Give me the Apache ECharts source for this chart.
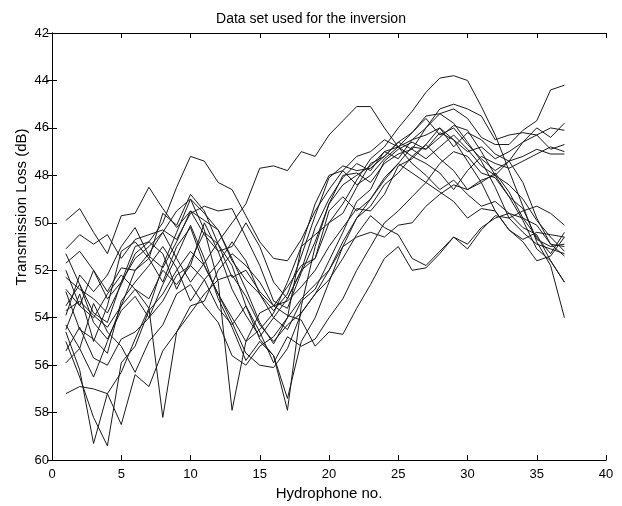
<!DOCTYPE html>
<html>
<head>
<meta charset="utf-8">
<title>Data set used for the inversion</title>
<script src="https://cdn.jsdelivr.net/npm/echarts@6/dist/echarts.min.js"></script>
<style>
    html, body { margin: 0; padding: 0; background: #fff; }
    #chart_main { width: 622px; height: 506px; }
</style>
</head>
<body>
<div id="chart_main"></div>
<script>
// 水听器编号
var hydrophone = [1, 2, 3, 4, 5, 6, 7, 8, 9, 10, 11, 12, 13, 14, 15, 16, 17, 18, 19, 20,
                  21, 22, 23, 24, 25, 26, 27, 28, 29, 30, 31, 32, 33, 34, 35, 36, 37];

// 传播损失 (dB)，每条曲线一组
var tl_1  = [49.9, 49.4, 50.4, 51.3, 49.7, 49.6, 48.5, 49.4, 50.2, 49.5, 50.5, 51.2, 51.0, 50.0, 51.0, 52.5, 53.2, 52.0, 51.5, 49.5, 48.9, 49.5, 49.0, 48.2, 47.5, 46.8, 46.9, 46.2, 46.5, 47.0, 46.8, 47.3, 47.0, 46.6, 46.3, 46.0, 46.1];
var tl_2  = [53.5, 52.6, 53.8, 54.2, 52.5, 51.0, 50.8, 50.0, 48.5, 47.2, 47.4, 48.3, 48.6, 49.7, 50.8, 51.5, 51.6, 50.7, 49.5, 48.6, 47.8, 47.2, 47.0, 46.5, 46.8, 46.2, 45.5, 45.4, 45.8, 46.6, 47.4, 48.5, 49.8, 50.4, 50.9, 51.1, 51.3];
var tl_3  = [52.8, 53.5, 52.0, 53.2, 52.5, 51.5, 51.0, 50.4, 51.5, 52.5, 51.7, 50.8, 50.0, 49.2, 47.7, 47.6, 47.8, 47.0, 47.2, 46.3, 45.7, 45.1, 45.1, 46.0, 46.8, 47.5, 48.0, 48.6, 48.2, 48.8, 49.3, 49.1, 49.6, 50.2, 50.5, 51.6, 52.5];
var tl_4  = [54.5, 53.0, 55.0, 53.5, 51.2, 50.8, 51.5, 52.5, 51.0, 50.2, 51.8, 53.0, 54.0, 55.0, 54.5, 53.8, 52.5, 51.0, 50.5, 50.0, 49.2, 48.2, 47.3, 46.8, 46.0, 45.3, 44.5, 43.9, 43.8, 44.0, 45.1, 46.3, 47.8, 49.3, 50.8, 51.8, 54.0];
var tl_5  = [54.3, 55.3, 56.5, 55.0, 53.5, 52.8, 53.2, 52.0, 52.6, 51.8, 50.0, 51.2, 52.8, 53.9, 54.8, 54.0, 53.2, 52.0, 50.2, 49.0, 48.1, 47.5, 47.8, 47.0, 47.3, 46.5, 46.0, 45.4, 45.2, 45.6, 46.4, 46.7, 46.7, 46.1, 45.7, 44.4, 44.2];
var tl_6  = [54.6, 56.2, 59.3, 57.2, 56.3, 54.9, 53.6, 51.8, 50.4, 49.0, 49.6, 50.3, 51.5, 52.8, 54.2, 55.1, 54.0, 51.0, 49.2, 48.0, 47.8, 48.4, 48.0, 47.3, 46.8, 47.2, 46.7, 46.0, 46.5, 47.4, 48.3, 49.5, 50.3, 50.7, 50.4, 50.5, 50.6];
var tl_7  = [55.0, 56.5, 58.2, 59.4, 55.9, 55.2, 53.7, 53.0, 52.0, 51.2, 51.8, 53.0, 54.2, 55.5, 56.0, 56.1, 55.3, 53.8, 53.0, 52.0, 50.8, 49.8, 49.3, 48.4, 47.9, 47.2, 47.5, 47.9, 48.6, 47.8, 47.2, 47.5, 47.7, 47.4, 47.1, 46.8, 47.0];
var tl_8  = [57.2, 56.9, 57.0, 57.2, 58.5, 56.4, 56.9, 55.4, 54.6, 53.8, 53.0, 52.4, 52.2, 53.1, 54.3, 55.0, 54.3, 53.8, 53.0, 52.4, 51.5, 50.5, 49.7, 50.2, 50.5, 51.5, 51.8, 51.2, 50.6, 50.9, 50.2, 49.8, 49.6, 49.8, 50.1, 50.9, 51.4];
var tl_9  = [52.0, 53.5, 54.0, 53.0, 52.2, 52.8, 53.6, 58.2, 54.6, 53.5, 53.3, 52.0, 51.3, 51.8, 52.5, 53.5, 53.9, 54.1, 55.2, 54.6, 54.7, 53.6, 52.6, 51.5, 51.0, 52.0, 51.9, 51.3, 50.6, 51.1, 50.3, 49.7, 49.8, 49.5, 49.3, 49.6, 50.1];
var tl_10 = [53.7, 53.3, 53.9, 54.4, 53.5, 52.0, 51.3, 50.4, 49.5, 49.0, 50.3, 52.5, 57.9, 55.0, 53.8, 53.5, 53.3, 52.7, 52.0, 51.0, 50.2, 49.4, 49.5, 48.8, 47.6, 47.3, 46.7, 47.3, 47.8, 48.6, 48.3, 47.9, 48.7, 49.8, 50.6, 51.3, 50.4];
var tl_11 = [52.3, 52.8, 53.2, 53.8, 52.6, 51.3, 50.8, 51.3, 52.8, 51.6, 50.4, 50.9, 51.8, 53.5, 54.9, 55.6, 57.9, 53.5, 51.0, 49.2, 48.4, 48.0, 47.6, 47.0, 46.8, 46.5, 46.3, 46.0, 46.8, 46.2, 46.5, 47.1, 47.4, 48.3, 49.8, 50.9, 51.0];
var tl_12 = [51.3, 52.6, 54.2, 54.9, 53.7, 53.1, 54.0, 52.6, 51.4, 50.1, 51.5, 53.2, 54.4, 55.8, 55.0, 55.6, 57.4, 55.0, 54.0, 52.5, 51.0, 49.8, 49.0, 48.1, 47.5, 47.9, 48.3, 47.5, 47.0, 47.2, 47.9, 48.1, 48.9, 49.4, 50.7, 51.0, 50.9];
var tl_13 = [55.4, 54.4, 55.7, 56.0, 54.9, 54.6, 54.0, 53.3, 52.2, 51.8, 52.4, 53.6, 54.3, 53.5, 54.6, 55.9, 54.8, 55.2, 54.9, 54.0, 53.2, 52.0, 51.0, 50.0, 49.5, 48.9, 48.3, 48.7, 49.1, 49.8, 49.4, 49.5, 50.3, 50.8, 51.6, 51.4, 50.6];
var tl_14 = [51.1, 50.5, 50.9, 50.5, 51.5, 50.7, 50.5, 50.3, 50.7, 49.6, 49.3, 49.5, 49.4, 50.6, 51.8, 53.3, 53.6, 52.1, 50.8, 49.2, 48.0, 47.9, 48.3, 47.5, 47.1, 46.9, 47.3, 46.8, 46.3, 46.9, 47.6, 48.0, 47.4, 46.6, 46.0, 46.4, 45.8];
var tl_15 = [53.9, 52.2, 52.9, 52.2, 51.0, 50.2, 51.4, 51.9, 50.8, 49.5, 49.9, 50.3, 51.6, 52.4, 53.0, 53.7, 53.0, 51.4, 49.7, 48.1, 47.6, 47.8, 47.7, 47.2, 46.6, 46.9, 46.0, 45.2, 45.0, 45.2, 45.5, 46.5, 46.3, 46.2, 46.3, 46.9, 46.7];
var tl_16 = [52.9, 54.5, 54.9, 55.5, 53.3, 52.5, 51.8, 51.0, 51.9, 53.3, 52.4, 51.7, 50.8, 51.6, 53.0, 54.0, 54.5, 53.3, 52.8, 51.6, 50.4, 49.1, 48.6, 47.4, 46.9, 46.6, 46.9, 46.4, 45.9, 46.1, 47.0, 48.0, 48.9, 49.9, 51.1, 51.6, 52.5];
var tl_17 = [55.9, 55.3, 53.4, 54.6, 55.2, 56.3, 55.0, 54.3, 53.0, 52.6, 53.5, 54.2, 55.6, 56.0, 55.2, 54.8, 54.0, 53.2, 52.6, 52.0, 51.0, 50.6, 50.4, 50.6, 50.1, 50.0, 49.3, 48.8, 48.4, 48.6, 48.2, 48.0, 48.4, 49.0, 49.9, 50.6, 51.2];
var tl_18 = [51.7, 51.2, 52.0, 52.9, 51.9, 52.0, 51.5, 49.6, 50.1, 48.8, 49.5, 50.9, 52.3, 52.0, 52.9, 53.5, 52.7, 51.8, 51.5, 50.0, 49.6, 48.5, 47.5, 47.2, 46.6, 46.2, 45.6, 46.3, 46.0, 46.7, 47.3, 47.8, 47.4, 47.2, 46.9, 47.1, 47.1];

var tl_all = [tl_1, tl_2, tl_3, tl_4, tl_5, tl_6, tl_7, tl_8, tl_9, tl_10,
              tl_11, tl_12, tl_13, tl_14, tl_15, tl_16, tl_17, tl_18];

$main();

function $main() {
    var myChart = echarts.init(document.getElementById('chart_main'));
    var font = 'Liberation Sans, Arial, sans-serif';

    // 每条曲线转成 [x, y] 点
    var series = [];
    for (var i = 0; i < tl_all.length; i++) {
        var pts = [];
        for (var j = 0; j < hydrophone.length; j++) {
            pts.push([hydrophone[j], tl_all[i][j]]);
        }
        series.push({
            type: 'line',
            data: pts,
            showSymbol: false,
            silent: true,
            lineStyle: { color: '#1a1a1a', width: 1 }
        });
    }

    // matlab 风格：四周框线，刻度朝内
    var tickIn = { show: true, inside: true, length: 5, lineStyle: { color: '#000' } };
    var lineK = { show: true, lineStyle: { color: '#000', width: 1 } };

    var option = {
        animation: false,
        backgroundColor: '#fff',
        title: {
            text: 'Data set used for the inversion',
            left: 'center',
            top: 7,
            textStyle: { fontFamily: font, fontSize: 14, fontWeight: 'normal', color: '#000' }
        },
        // y 轴标题在原图里偏上，单独画
        graphic: [{
            type: 'text',
            x: 22,
            y: 207,
            rotation: Math.PI / 2,
            style: {
                text: 'Transmission Loss (dB)',
                font: '15px ' + font,
                fill: '#000',
                align: 'center',
                verticalAlign: 'middle'
            }
        }],
        grid: { left: 52, right: 16, top: 33, bottom: 38 },
        xAxis: [{
            type: 'value',
            min: 0, max: 40, interval: 5,
            position: 'bottom',
            name: 'Hydrophone no.',
            nameLocation: 'middle',
            nameGap: 23,
            nameTextStyle: { fontFamily: font, fontSize: 15, color: '#000' },
            axisLine: lineK,
            axisTick: tickIn,
            axisLabel: { fontFamily: font, fontSize: 13, color: '#000', margin: 8 },
            splitLine: { show: false }
        }, {
            type: 'value',
            min: 0, max: 40, interval: 5,
            position: 'top',
            axisLine: lineK,
            axisTick: tickIn,
            axisLabel: { show: false },
            splitLine: { show: false }
        }],
        yAxis: [{
            type: 'value',
            inverse: true,
            min: 42, max: 60, interval: 2,
            position: 'left',
            axisLine: lineK,
            axisTick: tickIn,
            axisLabel: { fontFamily: font, fontSize: 13, color: '#000', margin: 3 },
            splitLine: { show: false }
        }, {
            type: 'value',
            inverse: true,
            min: 42, max: 60, interval: 2,
            position: 'right',
            axisLine: lineK,
            axisTick: tickIn,
            axisLabel: { show: false },
            splitLine: { show: false }
        }],
        series: series
    };

    myChart.setOption(option);
}
</script>
</body>
</html>
